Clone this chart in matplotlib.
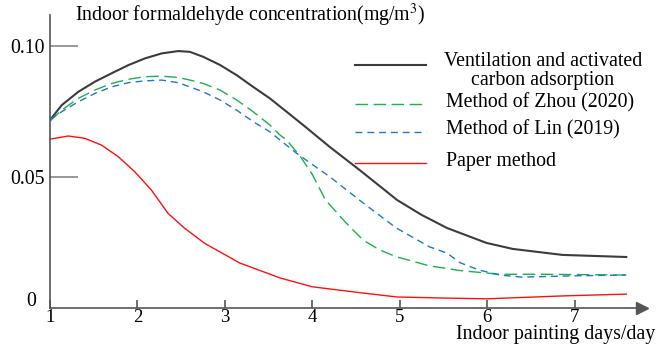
import matplotlib
matplotlib.use('Agg')
import matplotlib.pyplot as plt
from matplotlib.lines import Line2D

plt.rcParams['font.family'] = ['Liberation Serif', 'DejaVu Serif']
plt.rcParams['mathtext.fontset'] = 'stix'

# 读图得到的数据
x_vent = [1.0, 1.134, 1.323, 1.514, 1.705, 1.895, 2.086, 2.277, 2.466, 2.6, 2.752, 2.943, 3.134, 3.323, 3.514,
          3.705, 3.895, 4.2, 4.54, 4.97, 5.25, 5.54, 5.99, 6.29, 6.86, 7.59]
y_vent = [0.0718, 0.0775, 0.0826, 0.0865, 0.0897, 0.0928, 0.0954, 0.0973, 0.0982, 0.0979, 0.0960, 0.0929, 0.0890,
          0.0845, 0.0801, 0.0750, 0.0699, 0.0615, 0.0527, 0.0412, 0.0355, 0.0305, 0.0248, 0.0225, 0.0202, 0.0194]

x_zhou = [1.0, 1.134, 1.323, 1.514, 1.705, 1.895, 2.086, 2.277, 2.466, 2.6, 2.752, 2.943, 3.134, 3.323, 3.514,
          3.629, 3.705, 3.86, 4.0, 4.15, 4.39, 4.58, 4.77, 4.96, 5.34, 5.69, 6.14, 6.6, 7.59]
y_zhou = [0.0714, 0.0756, 0.0801, 0.0833, 0.0858, 0.0874, 0.0884, 0.0886, 0.0881, 0.0871, 0.0858, 0.0833, 0.0795,
          0.0750, 0.0699, 0.0661, 0.0642, 0.0580, 0.0510, 0.0412, 0.0323, 0.0259, 0.0221, 0.0195, 0.0160, 0.0142,
          0.0128, 0.0128, 0.0125]

x_lin = [1.0, 1.134, 1.323, 1.514, 1.705, 1.895, 2.086, 2.277, 2.466, 2.6, 2.752, 2.943, 3.134, 3.323, 3.514,
         3.629, 3.819, 4.0, 4.2, 4.58, 4.96, 5.34, 5.54, 5.69, 5.91, 6.14, 6.4, 7.0, 7.59]
y_lin = [0.0720, 0.0750, 0.0788, 0.0820, 0.0845, 0.0861, 0.0868, 0.0871, 0.0861, 0.0845, 0.0826, 0.0795, 0.0756,
         0.0712, 0.0673, 0.0642, 0.0591, 0.0548, 0.0501, 0.0401, 0.0305, 0.0233, 0.0209, 0.0172, 0.0144, 0.0125,
         0.0117, 0.0122, 0.0125]

x_paper = [1.0, 1.21, 1.4, 1.59, 1.78, 1.97, 2.16, 2.35, 2.54, 2.77, 3.17, 3.63, 4.0, 4.58, 4.97, 5.5, 5.99, 6.86,
           7.59]
y_paper = [0.0645, 0.0657, 0.0648, 0.0622, 0.0578, 0.0520, 0.0450, 0.0361, 0.0304, 0.0246, 0.0171, 0.0114, 0.0080,
           0.0056, 0.0041, 0.0037, 0.0034, 0.0045, 0.0052]

x_ticks = [1, 2, 3, 4, 5, 6, 7]
y_ticks = [0.05, 0.10]
y_ticklabels = ['0.05', '0.10']

c_vent = '#3c3c3c'
c_zhou = '#1db14b'
c_lin = '#1f78c8'
c_paper = '#ff1010'
c_axis = '#555555'
fs = 14.3

W, H = 657, 345
fig = plt.figure(figsize=(W / 100, H / 100), dpi=100)
ax = fig.add_axes([50 / W, (H - 307.7) / H, (642 - 50) / W, (307.7 - 15) / H])
ax.set_xlim(1, 7.77)
ax.set_ylim(0, 0.112)

ax.plot(x_vent, y_vent, color=c_vent, lw=1.5)
ax.plot(x_zhou, y_zhou, color=c_zhou, lw=1.0, dashes=(9, 4))
ax.plot(x_lin, y_lin, color=c_lin, lw=1.0, dashes=(5, 3.5))
ax.plot(x_paper, y_paper, color=c_paper, lw=1.0)

# 坐标轴
for s in ['top', 'right']:
    ax.spines[s].set_visible(False)
for s in ['left', 'bottom']:
    ax.spines[s].set_color(c_axis)
    ax.spines[s].set_linewidth(1.2)
ax.plot(1, 0, '>', color=c_axis, ms=9, transform=ax.get_yaxis_transform(), clip_on=False)
ax.plot(0, 1, '^', color=c_axis, ms=9, transform=ax.get_xaxis_transform(), clip_on=False)

ax.set_xticks(x_ticks)
ax.set_yticks(y_ticks)
ax.set_yticklabels(y_ticklabels)
ax.tick_params(axis='x', direction='in', length=6, width=1.2, color=c_axis, labelsize=13.5, pad=1)
ax.tick_params(axis='y', direction='in', length=20, width=1.2, color='#888888', labelsize=fs, pad=4)
ax.text(-0.032, 0.0025, '0', transform=ax.get_yaxis_transform(), ha='center', va='center', fontsize=fs)

ax.text(0.042, 1.0, 'Indoor formaldehyde concentration(mg/m$^3$)', transform=ax.transAxes,
        ha='left', va='center', fontsize=fs)
fig.text(655 / W, 1 / H, 'Indoor painting days/day', ha='right', va='bottom', fontsize=fs)

# 图例(手动)
leg = [
    (65, c_vent, 1.5, None, 'Ventilation and activated\ncarbon adsorption', 71),
    (104, c_zhou, 1.0, (9, 4), 'Method of Zhou (2020)', 103),
    (132, c_lin, 1.0, (5, 3.5), 'Method of Lin (2019)', 130),
    (163, c_paper, 1.0, None, 'Paper method', 162),
]
for ly, col, lw, ds, label, ty in leg:
    ln = Line2D([355 / W, 426 / W], [1 - ly / H, 1 - ly / H], color=col, lw=lw, transform=fig.transFigure)
    if ds:
        ln.set_dashes(ds)
    fig.add_artist(ln)
    if '\n' in label:
        fig.text(543 / W, 1 - ty / H, label, ha='center', va='center', fontsize=fs, linespacing=1.0)
    else:
        fig.text(446 / W, 1 - ty / H, label, ha='left', va='center', fontsize=fs)

fig.savefig('out.png', dpi=100)
